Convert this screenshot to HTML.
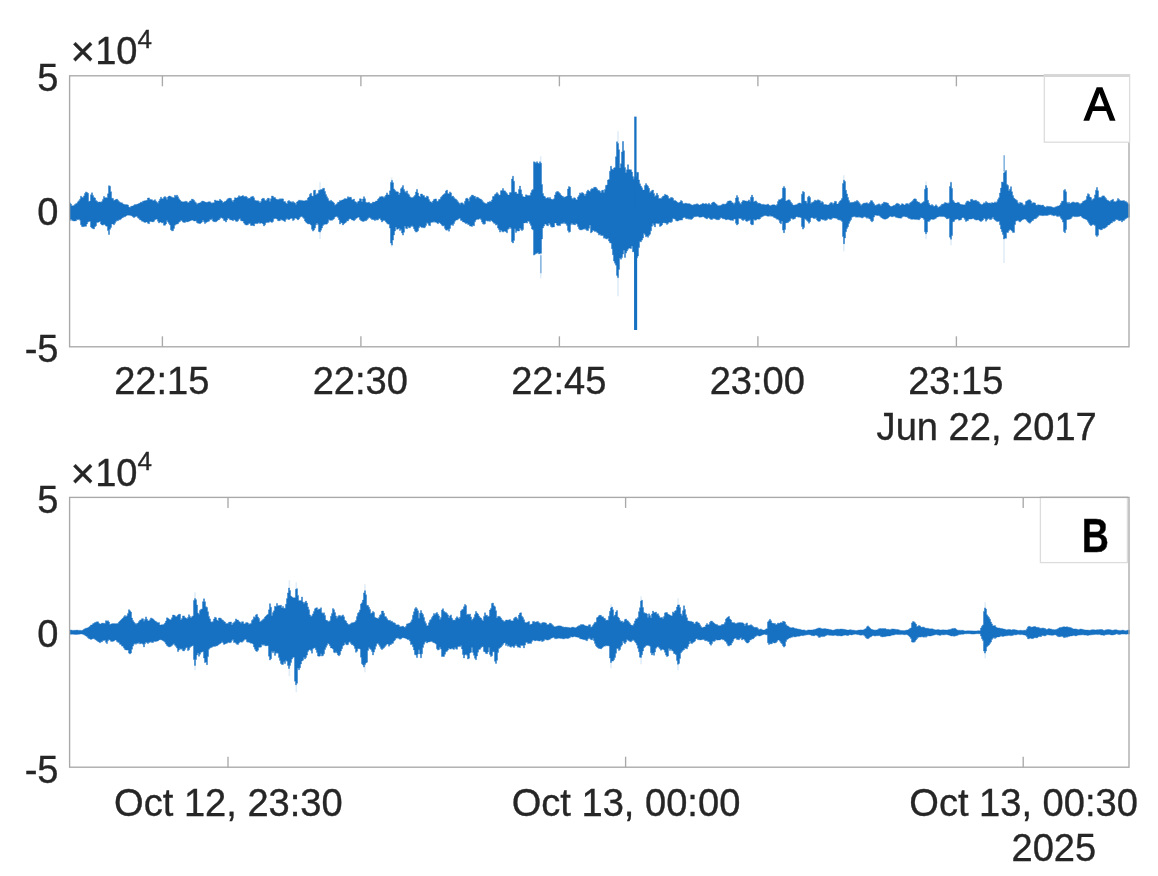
<!DOCTYPE html>
<html lang="en"><head><meta charset="utf-8"><title>Waveforms A and B</title>
<style>html,body{margin:0;padding:0;background:#fff;}body{width:1158px;height:876px;overflow:hidden;}svg{display:block;filter:blur(0.45px);}</style>
</head><body>
<svg width="1158" height="876" viewBox="0 0 1158 876" font-family="'Liberation Sans', Arial, Helvetica, sans-serif" fill="#262626" stroke="#262626" stroke-width="0.35">
<rect width="1158" height="876" fill="#ffffff" stroke="none"/>
<g id="panelA">
<line x1="320" y1="182.3" x2="320" y2="238.9" stroke="#1771c2" stroke-opacity="0.13" stroke-width="1.6"/>
<line x1="540.7" y1="156.3" x2="540.7" y2="278.3" stroke="#1771c2" stroke-opacity="0.13" stroke-width="1.6"/>
<line x1="1004" y1="155.3" x2="1004" y2="262.9" stroke="#1771c2" stroke-opacity="0.13" stroke-width="1.6"/>
<line x1="391.6" y1="177.3" x2="391.6" y2="247.3" stroke="#1771c2" stroke-opacity="0.13" stroke-width="1.6"/>
<line x1="618" y1="131.3" x2="618" y2="296.3" stroke="#1771c2" stroke-opacity="0.13" stroke-width="1.6"/>
<line x1="843.8" y1="175.3" x2="843.8" y2="251.3" stroke="#1771c2" stroke-opacity="0.13" stroke-width="1.6"/>
<line x1="951" y1="181.3" x2="951" y2="245.3" stroke="#1771c2" stroke-opacity="0.13" stroke-width="1.6"/>
<line x1="926" y1="181.3" x2="926" y2="239.3" stroke="#1771c2" stroke-opacity="0.13" stroke-width="1.6"/>
<path d="M69.50,211.3V202.9H70.50V204.1H71.50V206.1H72.50V205.7H73.50V205.6H74.50V204.4H75.50V203.7H76.50V203.2H77.50V201.8H78.50V200.7H79.50V199.3H80.50V196.2H81.50V197.2H82.50V197.8H83.50V195.9H84.50V193.5H85.50V191.9H86.50V192.5H87.50V193.3H88.50V201.6H89.50V201.0H90.50V194.8H91.50V192.8H92.50V195.4H93.50V197.4H94.50V198.0H95.50V200.4H96.50V201.2H97.50V202.3H98.50V202.0H99.50V201.9H100.50V202.2H101.50V201.6H102.50V199.4H103.50V196.5H104.50V198.0H105.50V197.6H106.50V198.1H107.50V193.8H108.50V185.7H109.50V186.2H110.50V191.7H111.50V198.2H112.50V198.4H113.50V200.5H114.50V200.0H115.50V199.5H116.50V199.1H117.50V200.3H118.50V201.5H119.50V202.3H120.50V202.8H121.50V202.8H122.50V203.9H123.50V204.3H124.50V204.7H125.50V204.6H126.50V204.7H127.50V205.1H128.50V207.1H129.50V207.4H130.50V206.5H131.50V206.1H132.50V206.0H133.50V205.2H134.50V204.5H135.50V204.7H136.50V204.2H137.50V204.0H138.50V203.6H139.50V203.1H140.50V202.1H141.50V202.4H142.50V201.2H143.50V201.0H144.50V200.7H145.50V200.6H146.50V200.2H147.50V198.1H148.50V197.9H149.50V199.4H150.50V199.6H151.50V199.7H152.50V200.7H153.50V200.6H154.50V199.7H155.50V201.2H156.50V202.3H157.50V203.2H158.50V201.0H159.50V199.3H160.50V197.2H161.50V198.7H162.50V198.7H163.50V197.2H164.50V196.6H165.50V197.5H166.50V199.5H167.50V197.1H168.50V196.1H169.50V196.1H170.50V196.7H171.50V197.2H172.50V197.4H173.50V198.0H174.50V195.2H175.50V196.2H176.50V195.1H177.50V196.7H178.50V198.7H179.50V200.1H180.50V201.2H181.50V201.8H182.50V201.8H183.50V202.0H184.50V201.4H185.50V201.2H186.50V201.7H187.50V202.9H188.50V202.3H189.50V201.0H190.50V200.8H191.50V199.1H192.50V199.4H193.50V200.2H194.50V201.8H195.50V202.7H196.50V204.3H197.50V203.6H198.50V203.0H199.50V202.9H200.50V202.2H201.50V201.2H202.50V201.1H203.50V201.6H204.50V202.0H205.50V202.2H206.50V202.5H207.50V202.0H208.50V201.7H209.50V201.8H210.50V202.8H211.50V203.3H212.50V202.8H213.50V202.7H214.50V200.0H215.50V200.8H216.50V200.8H217.50V201.0H218.50V200.9H219.50V199.3H220.50V200.2H221.50V201.1H222.50V202.7H223.50V202.1H224.50V201.4H225.50V201.1H226.50V199.8H227.50V198.7H228.50V198.3H229.50V198.1H230.50V198.6H231.50V200.6H232.50V201.7H233.50V200.1H234.50V197.8H235.50V198.1H236.50V198.1H237.50V197.3H238.50V195.7H239.50V196.4H240.50V196.5H241.50V196.1H242.50V195.6H243.50V196.5H244.50V196.7H245.50V196.3H246.50V197.2H247.50V198.8H248.50V198.1H249.50V198.5H250.50V196.9H251.50V196.7H252.50V196.3H253.50V197.8H254.50V200.2H255.50V200.7H256.50V200.7H257.50V200.7H258.50V201.5H259.50V203.1H260.50V201.4H261.50V199.0H262.50V198.2H263.50V198.6H264.50V200.3H265.50V201.1H266.50V199.4H267.50V198.1H268.50V198.5H269.50V201.6H270.50V198.7H271.50V196.0H272.50V196.3H273.50V197.5H274.50V197.6H275.50V199.0H276.50V199.4H277.50V199.4H278.50V199.6H279.50V198.7H280.50V199.3H281.50V198.7H282.50V198.9H283.50V201.6H284.50V201.6H285.50V202.9H286.50V203.9H287.50V201.2H288.50V200.6H289.50V201.6H290.50V201.7H291.50V202.6H292.50V201.6H293.50V202.4H294.50V203.0H295.50V204.5H296.50V202.0H297.50V201.2H298.50V200.2H299.50V200.3H300.50V200.4H301.50V200.4H302.50V201.1H303.50V200.8H304.50V200.9H305.50V200.2H306.50V200.4H307.50V198.1H308.50V197.0H309.50V194.3H310.50V193.2H311.50V196.0H312.50V196.3H313.50V190.4H314.50V190.1H315.50V195.0H316.50V193.7H317.50V193.4H318.50V190.3H319.50V190.2H320.50V189.6H321.50V189.6H322.50V188.4H323.50V188.2H324.50V191.5H325.50V194.6H326.50V196.7H327.50V198.5H328.50V200.7H329.50V201.2H330.50V200.3H331.50V201.3H332.50V202.0H333.50V203.0H334.50V205.3H335.50V204.6H336.50V203.7H337.50V202.3H338.50V202.1H339.50V200.4H340.50V200.9H341.50V200.1H342.50V199.9H343.50V199.2H344.50V198.5H345.50V199.1H346.50V198.7H347.50V196.7H348.50V197.8H349.50V197.1H350.50V197.4H351.50V199.8H352.50V199.7H353.50V199.1H354.50V201.5H355.50V202.1H356.50V203.3H357.50V201.7H358.50V201.1H359.50V198.7H360.50V199.0H361.50V201.7H362.50V198.9H363.50V196.7H364.50V198.7H365.50V202.2H366.50V203.0H367.50V202.6H368.50V202.2H369.50V203.2H370.50V203.5H371.50V203.2H372.50V202.0H373.50V202.3H374.50V202.0H375.50V201.0H376.50V201.0H377.50V199.3H378.50V198.3H379.50V196.8H380.50V196.8H381.50V196.4H382.50V196.8H383.50V197.7H384.50V196.4H385.50V195.1H386.50V192.9H387.50V194.8H388.50V195.1H389.50V190.8H390.50V182.4H391.50V180.4H392.50V182.7H393.50V188.9H394.50V190.2H395.50V191.6H396.50V191.7H397.50V192.0H398.50V194.7H399.50V193.0H400.50V188.7H401.50V187.5H402.50V185.6H403.50V189.4H404.50V191.5H405.50V192.6H406.50V190.9H407.50V193.7H408.50V194.7H409.50V196.7H410.50V197.5H411.50V197.7H412.50V197.5H413.50V196.6H414.50V195.3H415.50V192.0H416.50V189.4H417.50V192.9H418.50V196.1H419.50V196.9H420.50V194.1H421.50V194.0H422.50V195.4H423.50V195.6H424.50V197.6H425.50V197.4H426.50V196.0H427.50V196.7H428.50V199.6H429.50V201.4H430.50V201.9H431.50V202.7H432.50V201.0H433.50V199.4H434.50V199.1H435.50V198.9H436.50V201.2H437.50V201.2H438.50V199.6H439.50V199.2H440.50V197.3H441.50V196.3H442.50V195.1H443.50V194.3H444.50V193.4H445.50V190.9H446.50V190.1H447.50V193.6H448.50V194.0H449.50V191.9H450.50V192.9H451.50V196.5H452.50V196.1H453.50V197.4H454.50V198.8H455.50V199.2H456.50V200.2H457.50V201.7H458.50V202.9H459.50V204.2H460.50V202.9H461.50V202.7H462.50V203.5H463.50V204.6H464.50V201.3H465.50V198.7H466.50V198.0H467.50V198.9H468.50V201.3H469.50V197.6H470.50V196.5H471.50V195.1H472.50V195.3H473.50V196.3H474.50V196.3H475.50V198.5H476.50V197.0H477.50V197.5H478.50V198.3H479.50V198.9H480.50V199.3H481.50V200.2H482.50V201.7H483.50V202.7H484.50V203.2H485.50V203.7H486.50V203.6H487.50V202.0H488.50V202.3H489.50V201.3H490.50V201.9H491.50V199.9H492.50V196.6H493.50V196.2H494.50V194.5H495.50V193.8H496.50V192.6H497.50V193.8H498.50V195.2H499.50V195.0H500.50V190.7H501.50V190.6H502.50V188.5H503.50V190.7H504.50V190.9H505.50V192.3H506.50V193.5H507.50V195.0H508.50V195.1H509.50V192.6H510.50V192.6H511.50V179.1H512.50V176.2H513.50V181.2H514.50V192.2H515.50V192.0H516.50V193.7H517.50V194.0H518.50V189.5H519.50V186.1H520.50V189.8H521.50V194.2H522.50V196.6H523.50V197.1H524.50V197.0H525.50V194.8H526.50V195.2H527.50V195.7H528.50V195.4H529.50V195.6H530.50V192.8H531.50V190.3H532.50V189.4H533.50V161.8H534.50V162.3H535.50V163.3H536.50V161.7H537.50V163.1H538.50V163.8H539.50V161.8H540.50V163.2H541.50V184.4H542.50V193.5H543.50V196.1H544.50V196.8H545.50V198.5H546.50V198.0H547.50V197.5H548.50V198.4H549.50V197.4H550.50V199.0H551.50V199.5H552.50V199.4H553.50V198.8H554.50V195.0H555.50V192.4H556.50V191.6H557.50V191.6H558.50V192.6H559.50V193.6H560.50V195.0H561.50V196.1H562.50V196.5H563.50V197.4H564.50V196.9H565.50V196.8H566.50V196.1H567.50V189.1H568.50V186.6H569.50V187.3H570.50V196.1H571.50V198.3H572.50V199.3H573.50V197.8H574.50V198.0H575.50V199.6H576.50V200.1H577.50V197.1H578.50V195.6H579.50V192.9H580.50V193.8H581.50V192.6H582.50V193.0H583.50V194.3H584.50V195.9H585.50V193.9H586.50V191.5H587.50V190.0H588.50V191.0H589.50V191.5H590.50V189.5H591.50V188.5H592.50V189.0H593.50V187.6H594.50V187.1H595.50V187.5H596.50V188.7H597.50V190.2H598.50V190.5H599.50V191.3H600.50V192.7H601.50V190.5H602.50V190.1H603.50V192.4H604.50V189.4H605.50V185.4H606.50V185.0H607.50V180.0H608.50V179.5H609.50V171.2H610.50V166.2H611.50V169.1H612.50V169.9H613.50V168.1H614.50V167.5H615.50V156.7H616.50V141.8H617.50V143.4H618.50V149.7H619.50V167.9H620.50V163.7H621.50V152.0H622.50V141.4H623.50V150.7H624.50V167.6H625.50V172.8H626.50V169.8H627.50V164.7H628.50V169.6H629.50V169.8H630.50V169.8H631.50V172.1H632.50V176.6H633.50V179.2H634.50V177.2H635.50V176.4H636.50V172.3H637.50V172.4H638.50V179.9H639.50V183.8H640.50V186.1H641.50V187.8H642.50V190.0H643.50V190.1H644.50V185.5H645.50V183.6H646.50V185.0H647.50V186.2H648.50V188.3H649.50V192.4H650.50V191.4H651.50V190.6H652.50V190.1H653.50V193.5H654.50V196.5H655.50V195.6H656.50V193.3H657.50V195.3H658.50V198.8H659.50V198.3H660.50V198.8H661.50V197.5H662.50V196.2H663.50V195.9H664.50V194.3H665.50V195.1H666.50V195.0H667.50V196.2H668.50V198.4H669.50V198.5H670.50V197.4H671.50V197.6H672.50V198.3H673.50V200.4H674.50V200.4H675.50V201.1H676.50V202.0H677.50V202.7H678.50V202.7H679.50V202.1H680.50V200.6H681.50V201.2H682.50V203.3H683.50V203.9H684.50V203.3H685.50V203.2H686.50V203.5H687.50V204.1H688.50V203.6H689.50V203.9H690.50V204.7H691.50V205.1H692.50V205.2H693.50V204.5H694.50V204.4H695.50V204.2H696.50V203.8H697.50V204.2H698.50V205.1H699.50V205.0H700.50V204.4H701.50V204.1H702.50V203.3H703.50V203.9H704.50V204.0H705.50V203.5H706.50V204.2H707.50V204.2H708.50V203.3H709.50V204.5H710.50V204.7H711.50V203.1H712.50V202.2H713.50V202.0H714.50V203.0H715.50V203.9H716.50V204.8H717.50V205.9H718.50V205.4H719.50V205.7H720.50V205.3H721.50V204.8H722.50V203.9H723.50V204.2H724.50V204.2H725.50V204.0H726.50V202.7H727.50V201.3H728.50V201.1H729.50V200.8H730.50V201.1H731.50V202.4H732.50V202.9H733.50V204.3H734.50V202.8H735.50V198.0H736.50V195.6H737.50V197.5H738.50V201.6H739.50V203.2H740.50V204.3H741.50V202.0H742.50V200.6H743.50V200.6H744.50V200.9H745.50V200.9H746.50V201.6H747.50V201.0H748.50V199.9H749.50V201.4H750.50V197.2H751.50V195.1H752.50V197.3H753.50V202.1H754.50V201.2H755.50V200.9H756.50V202.3H757.50V203.4H758.50V203.1H759.50V203.6H760.50V204.1H761.50V204.7H762.50V204.2H763.50V204.4H764.50V205.1H765.50V204.8H766.50V204.7H767.50V204.0H768.50V205.1H769.50V206.0H770.50V205.4H771.50V205.0H772.50V204.8H773.50V204.8H774.50V205.1H775.50V205.7H776.50V204.6H777.50V201.5H778.50V199.7H779.50V199.7H780.50V199.2H781.50V198.2H782.50V188.1H783.50V186.6H784.50V188.2H785.50V200.9H786.50V200.8H787.50V200.1H788.50V199.7H789.50V200.6H790.50V202.3H791.50V203.4H792.50V205.0H793.50V205.2H794.50V205.0H795.50V204.8H796.50V204.6H797.50V203.7H798.50V203.0H799.50V203.1H800.50V203.4H801.50V194.2H802.50V191.5H803.50V192.2H804.50V201.1H805.50V201.3H806.50V203.2H807.50V197.3H808.50V196.0H809.50V197.4H810.50V203.4H811.50V202.4H812.50V202.3H813.50V201.4H814.50V200.1H815.50V201.1H816.50V200.4H817.50V199.8H818.50V200.3H819.50V200.7H820.50V202.7H821.50V201.5H822.50V202.6H823.50V204.5H824.50V204.5H825.50V204.6H826.50V205.0H827.50V205.1H828.50V204.8H829.50V203.5H830.50V202.6H831.50V202.8H832.50V204.3H833.50V203.0H834.50V201.3H835.50V201.5H836.50V204.0H837.50V204.1H838.50V202.6H839.50V201.0H840.50V200.3H841.50V198.5H842.50V183.6H843.50V180.2H844.50V181.6H845.50V190.2H846.50V193.9H847.50V197.5H848.50V200.5H849.50V202.4H850.50V202.4H851.50V202.5H852.50V202.3H853.50V202.2H854.50V201.4H855.50V201.4H856.50V200.4H857.50V201.2H858.50V202.4H859.50V203.8H860.50V205.6H861.50V204.6H862.50V203.8H863.50V203.1H864.50V203.2H865.50V202.9H866.50V202.7H867.50V203.8H868.50V203.5H869.50V202.2H870.50V200.6H871.50V200.7H872.50V202.3H873.50V203.8H874.50V205.2H875.50V205.5H876.50V204.8H877.50V204.5H878.50V203.8H879.50V204.6H880.50V205.4H881.50V203.9H882.50V203.4H883.50V202.1H884.50V202.4H885.50V202.5H886.50V202.9H887.50V203.2H888.50V205.0H889.50V206.1H890.50V206.8H891.50V206.2H892.50V206.0H893.50V205.3H894.50V205.3H895.50V204.1H896.50V203.3H897.50V203.7H898.50V204.0H899.50V205.6H900.50V204.9H901.50V203.7H902.50V204.0H903.50V205.0H904.50V204.9H905.50V203.8H906.50V203.5H907.50V203.7H908.50V204.5H909.50V202.9H910.50V202.2H911.50V201.6H912.50V200.4H913.50V199.1H914.50V198.8H915.50V199.3H916.50V201.2H917.50V202.0H918.50V202.2H919.50V203.3H920.50V204.0H921.50V202.9H922.50V202.3H923.50V201.4H924.50V189.3H925.50V185.6H926.50V187.9H927.50V200.3H928.50V203.3H929.50V205.1H930.50V205.4H931.50V204.6H932.50V205.5H933.50V206.6H934.50V206.1H935.50V204.8H936.50V205.9H937.50V207.4H938.50V206.9H939.50V206.4H940.50V205.4H941.50V204.2H942.50V204.3H943.50V203.7H944.50V202.5H945.50V203.0H946.50V202.9H947.50V203.8H948.50V202.7H949.50V186.5H950.50V182.5H951.50V188.4H952.50V200.2H953.50V201.7H954.50V203.1H955.50V203.0H956.50V203.1H957.50V202.3H958.50V202.8H959.50V204.0H960.50V204.6H961.50V204.5H962.50V205.0H963.50V204.8H964.50V204.8H965.50V202.8H966.50V201.3H967.50V200.9H968.50V201.8H969.50V202.0H970.50V199.5H971.50V199.2H972.50V200.2H973.50V200.9H974.50V200.2H975.50V200.2H976.50V201.2H977.50V201.5H978.50V202.3H979.50V203.7H980.50V204.3H981.50V205.1H982.50V204.0H983.50V202.8H984.50V203.2H985.50V201.6H986.50V202.4H987.50V203.0H988.50V203.3H989.50V202.9H990.50V203.5H991.50V202.6H992.50V202.9H993.50V202.9H994.50V201.9H995.50V202.9H996.50V201.7H997.50V199.6H998.50V197.8H999.50V193.0H1000.50V188.1H1001.50V182.0H1002.50V182.2H1003.50V173.1H1004.50V171.7H1005.50V170.5H1006.50V184.4H1007.50V185.5H1008.50V190.7H1009.50V189.2H1010.50V186.7H1011.50V191.8H1012.50V195.6H1013.50V198.0H1014.50V199.0H1015.50V199.8H1016.50V200.4H1017.50V202.8H1018.50V204.0H1019.50V202.4H1020.50V202.8H1021.50V202.9H1022.50V204.4H1023.50V205.4H1024.50V204.7H1025.50V201.5H1026.50V200.9H1027.50V200.3H1028.50V199.8H1029.50V199.8H1030.50V201.1H1031.50V203.5H1032.50V202.7H1033.50V202.8H1034.50V203.0H1035.50V205.1H1036.50V205.4H1037.50V204.8H1038.50V205.1H1039.50V204.9H1040.50V205.6H1041.50V205.3H1042.50V205.0H1043.50V206.3H1044.50V206.9H1045.50V207.3H1046.50V206.2H1047.50V206.4H1048.50V206.5H1049.50V206.5H1050.50V206.7H1051.50V207.0H1052.50V207.4H1053.50V207.8H1054.50V207.2H1055.50V206.8H1056.50V206.6H1057.50V205.9H1058.50V206.1H1059.50V205.1H1060.50V203.2H1061.50V201.2H1062.50V201.1H1063.50V190.4H1064.50V189.5H1065.50V191.8H1066.50V202.2H1067.50V203.5H1068.50V202.3H1069.50V203.7H1070.50V203.1H1071.50V202.6H1072.50V201.9H1073.50V202.2H1074.50V202.7H1075.50V202.8H1076.50V202.3H1077.50V202.6H1078.50V203.3H1079.50V204.3H1080.50V203.5H1081.50V202.9H1082.50V201.4H1083.50V201.0H1084.50V200.5H1085.50V199.8H1086.50V196.3H1087.50V193.7H1088.50V194.4H1089.50V197.0H1090.50V197.6H1091.50V200.3H1092.50V199.2H1093.50V198.6H1094.50V194.9H1095.50V190.3H1096.50V187.5H1097.50V190.7H1098.50V197.5H1099.50V197.3H1100.50V197.8H1101.50V196.5H1102.50V195.8H1103.50V195.9H1104.50V197.3H1105.50V198.4H1106.50V199.9H1107.50V200.4H1108.50V201.1H1109.50V201.7H1110.50V200.5H1111.50V199.9H1112.50V199.3H1113.50V201.4H1114.50V201.8H1115.50V201.7H1116.50V200.8H1117.50V198.6H1118.50V199.4H1119.50V200.4H1120.50V201.0H1121.50V200.8H1122.50V200.8H1123.50V200.6H1124.50V201.4H1125.50V201.6H1126.50V202.4H1127.50V203.6H1128.50V204.2H1129.50V211.3V217.3H1128.50V217.5H1127.50V217.7H1126.50V218.5H1125.50V219.2H1124.50V220.4H1123.50V220.4H1122.50V221.9H1121.50V220.3H1120.50V220.7H1119.50V220.7H1118.50V219.8H1117.50V219.7H1116.50V219.3H1115.50V220.7H1114.50V221.5H1113.50V221.3H1112.50V222.8H1111.50V222.9H1110.50V224.1H1109.50V225.0H1108.50V225.0H1107.50V226.4H1106.50V227.2H1105.50V228.1H1104.50V228.5H1103.50V228.3H1102.50V229.5H1101.50V230.0H1100.50V229.3H1099.50V229.1H1098.50V235.3H1097.50V236.6H1096.50V235.2H1095.50V225.6H1094.50V224.8H1093.50V224.2H1092.50V225.0H1091.50V225.7H1090.50V224.7H1089.50V223.2H1088.50V221.4H1087.50V220.0H1086.50V219.3H1085.50V219.0H1084.50V218.5H1083.50V218.0H1082.50V217.2H1081.50V216.1H1080.50V216.1H1079.50V216.4H1078.50V216.5H1077.50V216.8H1076.50V216.6H1075.50V216.8H1074.50V216.5H1073.50V216.1H1072.50V217.2H1071.50V218.4H1070.50V219.1H1069.50V219.3H1068.50V219.6H1067.50V219.7H1066.50V229.6H1065.50V232.7H1064.50V231.5H1063.50V222.1H1062.50V219.5H1061.50V218.2H1060.50V216.6H1059.50V215.7H1058.50V216.6H1057.50V216.3H1056.50V215.5H1055.50V215.1H1054.50V215.9H1053.50V215.2H1052.50V215.2H1051.50V214.6H1050.50V214.7H1049.50V214.7H1048.50V215.2H1047.50V215.5H1046.50V215.5H1045.50V215.3H1044.50V215.5H1043.50V215.7H1042.50V215.6H1041.50V215.5H1040.50V215.0H1039.50V215.4H1038.50V216.5H1037.50V217.5H1036.50V218.5H1035.50V218.8H1034.50V218.9H1033.50V220.4H1032.50V220.7H1031.50V222.0H1030.50V223.2H1029.50V222.8H1028.50V222.0H1027.50V220.8H1026.50V219.4H1025.50V219.1H1024.50V219.0H1023.50V219.6H1022.50V219.9H1021.50V221.0H1020.50V222.0H1019.50V221.2H1018.50V220.1H1017.50V220.8H1016.50V221.0H1015.50V224.5H1014.50V232.4H1013.50V232.4H1012.50V231.1H1011.50V229.9H1010.50V229.6H1009.50V230.5H1008.50V232.4H1007.50V232.5H1006.50V238.3H1005.50V238.0H1004.50V239.0H1003.50V234.6H1002.50V231.7H1001.50V228.9H1000.50V224.8H999.50V221.0H998.50V221.6H997.50V221.4H996.50V220.8H995.50V220.0H994.50V218.9H993.50V217.1H992.50V218.6H991.50V219.5H990.50V219.6H989.50V218.6H988.50V218.7H987.50V219.8H986.50V221.2H985.50V218.7H984.50V218.3H983.50V219.9H982.50V220.8H981.50V221.5H980.50V221.0H979.50V219.9H978.50V219.7H977.50V220.0H976.50V220.1H975.50V219.6H974.50V218.9H973.50V217.9H972.50V218.9H971.50V219.0H970.50V219.1H969.50V219.1H968.50V220.5H967.50V220.8H966.50V221.4H965.50V219.6H964.50V218.1H963.50V217.2H962.50V217.9H961.50V219.7H960.50V220.0H959.50V220.2H958.50V218.9H957.50V219.0H956.50V219.3H955.50V219.7H954.50V221.4H953.50V221.8H952.50V235.5H951.50V239.2H950.50V237.2H949.50V218.2H948.50V218.5H947.50V218.9H946.50V217.8H945.50V217.0H944.50V216.6H943.50V216.5H942.50V216.6H941.50V216.6H940.50V216.2H939.50V216.4H938.50V216.9H937.50V217.1H936.50V218.2H935.50V218.8H934.50V219.2H933.50V219.6H932.50V218.9H931.50V219.3H930.50V220.3H929.50V221.5H928.50V221.5H927.50V232.1H926.50V233.7H925.50V231.8H924.50V219.4H923.50V218.0H922.50V217.9H921.50V217.5H920.50V218.8H919.50V219.9H918.50V219.2H917.50V219.6H916.50V219.3H915.50V219.4H914.50V219.1H913.50V219.2H912.50V219.3H911.50V219.2H910.50V218.5H909.50V218.4H908.50V217.7H907.50V216.7H906.50V217.0H905.50V216.6H904.50V216.2H903.50V216.6H902.50V217.2H901.50V218.2H900.50V218.0H899.50V218.1H898.50V217.8H897.50V217.4H896.50V217.3H895.50V216.4H894.50V216.0H893.50V216.6H892.50V216.9H891.50V216.2H890.50V216.3H889.50V216.9H888.50V218.0H887.50V218.5H886.50V219.0H885.50V219.2H884.50V219.1H883.50V218.6H882.50V217.9H881.50V217.2H880.50V216.2H879.50V215.5H878.50V215.4H877.50V215.5H876.50V214.9H875.50V215.3H874.50V217.1H873.50V220.8H872.50V221.8H871.50V220.8H870.50V219.1H869.50V218.5H868.50V217.4H867.50V218.3H866.50V217.3H865.50V216.8H864.50V216.7H863.50V217.4H862.50V218.1H861.50V217.2H860.50V217.3H859.50V216.8H858.50V217.2H857.50V217.1H856.50V217.2H855.50V216.4H854.50V216.4H853.50V216.8H852.50V217.2H851.50V219.8H850.50V221.3H849.50V223.4H848.50V226.7H847.50V228.4H846.50V231.7H845.50V237.9H844.50V243.7H843.50V236.6H842.50V221.4H841.50V220.4H840.50V219.8H839.50V220.1H838.50V219.5H837.50V218.5H836.50V218.3H835.50V218.0H834.50V218.1H833.50V217.7H832.50V218.6H831.50V219.4H830.50V219.3H829.50V218.7H828.50V218.5H827.50V219.8H826.50V220.2H825.50V220.4H824.50V219.6H823.50V220.0H822.50V218.9H821.50V219.3H820.50V221.1H819.50V221.4H818.50V221.1H817.50V219.9H816.50V217.8H815.50V218.5H814.50V218.6H813.50V217.9H812.50V217.3H811.50V218.0H810.50V221.7H809.50V223.2H808.50V221.5H807.50V220.5H806.50V219.4H805.50V218.8H804.50V227.6H803.50V229.1H802.50V226.5H801.50V217.7H800.50V217.1H799.50V217.2H798.50V217.1H797.50V216.5H796.50V217.0H795.50V218.5H794.50V219.0H793.50V219.3H792.50V218.2H791.50V218.6H790.50V220.8H789.50V221.5H788.50V222.5H787.50V222.7H786.50V222.9H785.50V229.6H784.50V232.7H783.50V230.1H782.50V220.9H781.50V223.8H780.50V222.7H779.50V220.2H778.50V219.2H777.50V219.3H776.50V218.3H775.50V217.8H774.50V217.4H773.50V216.4H772.50V216.0H771.50V216.3H770.50V215.6H769.50V216.2H768.50V216.2H767.50V216.0H766.50V215.6H765.50V215.5H764.50V215.7H763.50V216.2H762.50V216.8H761.50V217.3H760.50V218.7H759.50V219.3H758.50V218.9H757.50V219.1H756.50V220.1H755.50V220.2H754.50V219.3H753.50V224.5H752.50V225.0H751.50V224.0H750.50V219.8H749.50V220.6H748.50V220.7H747.50V221.4H746.50V220.9H745.50V219.2H744.50V219.8H743.50V220.4H742.50V219.7H741.50V218.5H740.50V218.4H739.50V218.2H738.50V223.9H737.50V225.0H736.50V223.3H735.50V219.0H734.50V219.1H733.50V220.6H732.50V219.9H731.50V220.3H730.50V219.9H729.50V219.6H728.50V219.3H727.50V219.4H726.50V219.9H725.50V219.1H724.50V218.7H723.50V218.8H722.50V218.0H721.50V217.6H720.50V218.5H719.50V219.7H718.50V219.7H717.50V219.7H716.50V219.3H715.50V218.7H714.50V218.4H713.50V218.6H712.50V219.5H711.50V219.4H710.50V218.7H709.50V217.7H708.50V217.7H707.50V218.9H706.50V218.3H705.50V217.8H704.50V217.0H703.50V216.6H702.50V216.9H701.50V217.1H700.50V217.3H699.50V217.0H698.50V216.1H697.50V216.5H696.50V216.6H695.50V216.8H694.50V216.7H693.50V217.9H692.50V219.0H691.50V219.5H690.50V218.7H689.50V219.2H688.50V218.6H687.50V218.8H686.50V218.5H685.50V217.5H684.50V217.2H683.50V218.1H682.50V220.1H681.50V220.1H680.50V220.1H679.50V220.2H678.50V220.9H677.50V221.1H676.50V220.4H675.50V219.1H674.50V218.8H673.50V218.5H672.50V221.6H671.50V222.5H670.50V221.9H669.50V222.3H668.50V223.4H667.50V224.4H666.50V223.0H665.50V223.1H664.50V222.4H663.50V222.9H662.50V224.9H661.50V225.9H660.50V226.4H659.50V223.2H658.50V223.8H657.50V222.9H656.50V223.4H655.50V226.9H654.50V225.3H653.50V223.4H652.50V226.3H651.50V230.8H650.50V234.2H649.50V235.4H648.50V237.3H647.50V236.1H646.50V236.8H645.50V234.5H644.50V233.3H643.50V238.0H642.50V240.1H641.50V241.8H640.50V241.6H639.50V247.5H638.50V255.9H637.50V257.8H636.50V255.9H635.50V253.6H634.50V251.6H633.50V251.9H632.50V246.0H631.50V248.6H630.50V248.2H629.50V248.0H628.50V249.3H627.50V250.9H626.50V253.1H625.50V257.4H624.50V250.2H623.50V254.0H622.50V257.6H621.50V259.2H620.50V258.1H619.50V269.4H618.50V277.6H617.50V275.4H616.50V265.2H615.50V263.2H614.50V261.0H613.50V254.8H612.50V248.7H611.50V243.1H610.50V242.8H609.50V241.0H608.50V237.9H607.50V239.1H606.50V238.7H605.50V237.8H604.50V238.2H603.50V235.6H602.50V235.4H601.50V235.4H600.50V233.9H599.50V235.1H598.50V233.1H597.50V232.3H596.50V231.2H595.50V231.6H594.50V230.7H593.50V230.3H592.50V231.9H591.50V232.8H590.50V225.0H589.50V228.3H588.50V230.5H587.50V230.6H586.50V229.5H585.50V228.5H584.50V229.2H583.50V229.1H582.50V229.8H581.50V229.9H580.50V229.8H579.50V228.8H578.50V226.5H577.50V224.1H576.50V223.6H575.50V224.9H574.50V224.4H573.50V224.4H572.50V223.3H571.50V224.6H570.50V231.7H569.50V232.3H568.50V230.4H567.50V225.4H566.50V223.8H565.50V223.6H564.50V222.6H563.50V223.5H562.50V223.2H561.50V223.8H560.50V225.7H559.50V224.9H558.50V225.8H557.50V225.0H556.50V222.9H555.50V223.1H554.50V226.9H553.50V227.0H552.50V227.2H551.50V226.5H550.50V224.5H549.50V222.9H548.50V225.8H547.50V225.4H546.50V224.2H545.50V224.1H544.50V226.1H543.50V227.9H542.50V238.9H541.50V253.3H540.50V253.4H539.50V253.9H538.50V252.4H537.50V253.3H536.50V253.5H535.50V254.3H534.50V255.1H533.50V229.8H532.50V228.9H531.50V225.4H530.50V223.6H529.50V221.5H528.50V221.1H527.50V223.1H526.50V222.4H525.50V222.9H524.50V222.9H523.50V229.6H522.50V230.6H521.50V229.6H520.50V227.9H519.50V231.0H518.50V231.0H517.50V230.8H516.50V232.4H515.50V228.8H514.50V240.4H513.50V243.0H512.50V241.7H511.50V228.5H510.50V226.9H509.50V228.6H508.50V229.3H507.50V232.8H506.50V231.7H505.50V231.3H504.50V231.0H503.50V232.1H502.50V231.2H501.50V230.1H500.50V232.1H499.50V229.6H498.50V228.0H497.50V224.4H496.50V225.1H495.50V223.6H494.50V223.3H493.50V222.1H492.50V221.0H491.50V220.3H490.50V221.4H489.50V220.7H488.50V221.2H487.50V220.7H486.50V220.7H485.50V223.7H484.50V224.3H483.50V223.8H482.50V222.1H481.50V219.6H480.50V218.3H479.50V219.1H478.50V219.4H477.50V219.1H476.50V220.0H475.50V221.8H474.50V225.7H473.50V225.2H472.50V226.5H471.50V226.1H470.50V226.1H469.50V224.5H468.50V224.4H467.50V223.1H466.50V223.7H465.50V222.7H464.50V221.9H463.50V222.0H462.50V220.6H461.50V220.4H460.50V218.3H459.50V218.4H458.50V219.3H457.50V220.1H456.50V220.0H455.50V221.3H454.50V223.5H453.50V225.4H452.50V224.5H451.50V225.2H450.50V228.4H449.50V231.2H448.50V229.2H447.50V230.2H446.50V230.1H445.50V228.4H444.50V225.4H443.50V226.1H442.50V225.3H441.50V224.0H440.50V223.0H439.50V222.6H438.50V223.7H437.50V223.0H436.50V221.9H435.50V222.3H434.50V221.5H433.50V222.2H432.50V222.2H431.50V222.4H430.50V225.7H429.50V225.3H428.50V223.4H427.50V222.8H426.50V225.4H425.50V227.3H424.50V227.9H423.50V227.3H422.50V227.6H421.50V226.9H420.50V226.1H419.50V227.8H418.50V230.8H417.50V231.8H416.50V232.1H415.50V230.8H414.50V228.7H413.50V226.5H412.50V225.8H411.50V226.5H410.50V227.8H409.50V227.8H408.50V226.4H407.50V228.7H406.50V228.3H405.50V225.9H404.50V232.2H403.50V235.1H402.50V232.9H401.50V229.5H400.50V230.6H399.50V228.1H398.50V228.9H397.50V229.3H396.50V227.1H395.50V230.9H394.50V234.9H393.50V240.1H392.50V245.1H391.50V243.1H390.50V228.1H389.50V224.2H388.50V224.1H387.50V223.2H386.50V221.9H385.50V220.8H384.50V220.0H383.50V220.7H382.50V221.9H381.50V220.1H380.50V218.4H379.50V218.6H378.50V219.8H377.50V220.1H376.50V219.6H375.50V220.6H374.50V219.7H373.50V219.5H372.50V219.6H371.50V218.6H370.50V217.7H369.50V217.6H368.50V218.6H367.50V219.8H366.50V220.8H365.50V220.4H364.50V221.3H363.50V221.4H362.50V221.1H361.50V220.4H360.50V219.6H359.50V217.3H358.50V216.9H357.50V217.9H356.50V218.6H355.50V219.7H354.50V220.7H353.50V220.1H352.50V219.9H351.50V218.9H350.50V218.4H349.50V219.2H348.50V220.9H347.50V220.8H346.50V222.2H345.50V222.9H344.50V223.7H343.50V225.0H342.50V223.0H341.50V222.5H340.50V224.0H339.50V219.8H338.50V217.5H337.50V216.6H336.50V216.5H335.50V217.1H334.50V218.7H333.50V219.6H332.50V220.3H331.50V220.2H330.50V220.3H329.50V219.5H328.50V222.5H327.50V223.9H326.50V224.2H325.50V224.0H324.50V224.6H323.50V225.5H322.50V227.9H321.50V230.2H320.50V232.1H319.50V231.5H318.50V224.6H317.50V222.9H316.50V224.8H315.50V228.1H314.50V230.0H313.50V231.1H312.50V229.2H311.50V225.0H310.50V223.9H309.50V223.8H308.50V223.9H307.50V223.1H306.50V222.2H305.50V220.9H304.50V218.6H303.50V217.4H302.50V216.5H301.50V216.4H300.50V217.3H299.50V218.9H298.50V219.9H297.50V218.9H296.50V217.9H295.50V218.3H294.50V219.8H293.50V220.6H292.50V218.5H291.50V217.9H290.50V218.9H289.50V219.7H288.50V219.3H287.50V218.4H286.50V219.5H285.50V221.6H284.50V220.9H283.50V220.3H282.50V220.1H281.50V219.3H280.50V220.4H279.50V220.9H278.50V220.5H277.50V219.1H276.50V218.4H275.50V218.4H274.50V218.8H273.50V221.4H272.50V222.4H271.50V221.9H270.50V221.3H269.50V222.2H268.50V222.6H267.50V222.2H266.50V222.7H265.50V224.7H264.50V226.0H263.50V224.0H262.50V223.1H261.50V223.1H260.50V223.4H259.50V222.6H258.50V223.2H257.50V223.7H256.50V223.3H255.50V223.8H254.50V225.9H253.50V225.2H252.50V225.5H251.50V225.4H250.50V223.5H249.50V223.6H248.50V224.5H247.50V225.1H246.50V224.9H245.50V224.3H244.50V223.1H243.50V220.9H242.50V221.1H241.50V220.5H240.50V218.6H239.50V219.2H238.50V220.8H237.50V221.6H236.50V221.3H235.50V220.1H234.50V219.4H233.50V220.7H232.50V219.9H231.50V219.9H230.50V219.6H229.50V218.6H228.50V218.1H227.50V220.0H226.50V222.0H225.50V220.7H224.50V220.4H223.50V218.6H222.50V217.9H221.50V217.6H220.50V218.6H219.50V219.7H218.50V220.0H217.50V220.9H216.50V221.8H215.50V221.8H214.50V221.7H213.50V221.1H212.50V218.7H211.50V219.8H210.50V219.6H209.50V221.2H208.50V221.6H207.50V222.0H206.50V222.5H205.50V223.6H204.50V221.7H203.50V219.9H202.50V222.0H201.50V222.9H200.50V223.7H199.50V223.3H198.50V223.2H197.50V222.5H196.50V220.8H195.50V220.9H194.50V221.0H193.50V219.9H192.50V220.2H191.50V220.3H190.50V220.9H189.50V221.2H188.50V221.7H187.50V221.9H186.50V221.5H185.50V222.4H184.50V222.4H183.50V222.1H182.50V220.8H181.50V220.3H180.50V221.5H179.50V222.2H178.50V223.8H177.50V224.0H176.50V224.3H175.50V225.2H174.50V228.4H173.50V230.7H172.50V230.8H171.50V229.7H170.50V224.9H169.50V223.5H168.50V221.9H167.50V220.6H166.50V223.9H165.50V225.2H164.50V225.3H163.50V222.6H162.50V223.0H161.50V222.0H160.50V222.1H159.50V223.0H158.50V221.3H157.50V218.9H156.50V219.2H155.50V219.7H154.50V221.3H153.50V221.9H152.50V221.7H151.50V221.5H150.50V221.4H149.50V223.7H148.50V223.3H147.50V222.0H146.50V222.0H145.50V222.5H144.50V222.1H143.50V221.3H142.50V221.3H141.50V220.0H140.50V219.8H139.50V218.5H138.50V217.8H137.50V216.6H136.50V216.1H135.50V217.0H134.50V217.6H133.50V216.8H132.50V216.0H131.50V215.6H130.50V215.2H129.50V215.3H128.50V214.9H127.50V215.3H126.50V215.9H125.50V216.7H124.50V216.8H123.50V217.5H122.50V217.9H121.50V219.1H120.50V219.8H119.50V219.8H118.50V220.7H117.50V220.6H116.50V221.4H115.50V223.2H114.50V224.8H113.50V224.0H112.50V223.9H111.50V227.4H110.50V229.3H109.50V234.5H108.50V230.6H107.50V226.3H106.50V226.0H105.50V224.7H104.50V224.2H103.50V225.1H102.50V224.9H101.50V223.9H100.50V221.2H99.50V221.9H98.50V222.3H97.50V222.6H96.50V225.7H95.50V226.7H94.50V228.9H93.50V228.6H92.50V228.1H91.50V227.0H90.50V221.3H89.50V221.6H88.50V222.1H87.50V223.9H86.50V226.3H85.50V226.2H84.50V226.4H83.50V226.8H82.50V226.5H81.50V224.8H80.50V220.2H79.50V219.1H78.50V219.8H77.50V219.6H76.50V220.8H75.50V220.9H74.50V220.9H73.50V220.8H72.50V220.3H71.50V218.9H70.50V220.5H69.50Z" fill="#1771c2" stroke="#1771c2" stroke-width="0.4" stroke-linejoin="miter"/>
<line x1="1004.2" y1="155.3" x2="1004.2" y2="171.3" stroke="#1771c2" stroke-opacity="0.55" stroke-width="1.3"/>
<line x1="540.9" y1="255.3" x2="540.9" y2="273.3" stroke="#1771c2" stroke-opacity="0.55" stroke-width="1.3"/>
<line x1="635.4" y1="116.6" x2="635.4" y2="211.3" stroke="#1771c2" stroke-width="2.3"/>
<line x1="635.6" y1="211.3" x2="635.6" y2="330.0" stroke="#1771c2" stroke-width="3.0999999999999996"/>
<rect x="69.6" y="75.8" width="1059.4" height="271.0" fill="none" stroke="#a9a9a9" stroke-width="1.35"/>
<line x1="162.4" y1="75.8" x2="162.4" y2="86.3" stroke="#a9a9a9" stroke-width="1.35"/>
<line x1="162.4" y1="346.8" x2="162.4" y2="336.3" stroke="#a9a9a9" stroke-width="1.35"/>
<line x1="360.9" y1="75.8" x2="360.9" y2="86.3" stroke="#a9a9a9" stroke-width="1.35"/>
<line x1="360.9" y1="346.8" x2="360.9" y2="336.3" stroke="#a9a9a9" stroke-width="1.35"/>
<line x1="559.4" y1="75.8" x2="559.4" y2="86.3" stroke="#a9a9a9" stroke-width="1.35"/>
<line x1="559.4" y1="346.8" x2="559.4" y2="336.3" stroke="#a9a9a9" stroke-width="1.35"/>
<line x1="757.9" y1="75.8" x2="757.9" y2="86.3" stroke="#a9a9a9" stroke-width="1.35"/>
<line x1="757.9" y1="346.8" x2="757.9" y2="336.3" stroke="#a9a9a9" stroke-width="1.35"/>
<line x1="956.4" y1="75.8" x2="956.4" y2="86.3" stroke="#a9a9a9" stroke-width="1.35"/>
<line x1="956.4" y1="346.8" x2="956.4" y2="336.3" stroke="#a9a9a9" stroke-width="1.35"/>
<rect x="1044.3" y="74.6" width="85.3" height="67.6" fill="#ffffff" stroke="#dcdcdc" stroke-width="1.3"/>
<line x1="1044.3" y1="75.6" x2="1129.6" y2="75.6" stroke="#d6d6d6" stroke-width="2.6"/>
<text x="1099.4" y="120.2" text-anchor="middle" font-size="45.6" fill="#000" stroke="#000" stroke-width="1.3">A</text>
<text x="58.5" y="91.0" text-anchor="end" font-size="38.1" >5</text>
<text x="58.5" y="225.2" text-anchor="end" font-size="38.1" >0</text>
<text x="58.5" y="362.0" text-anchor="end" font-size="38.1" >-5</text>
<text x="70.6" y="63.8" font-size="38.1"><tspan font-size="42" dy="2.4">×</tspan><tspan dy="-2.4">10</tspan><tspan dy="-15.6" font-size="26">4</tspan></text>
<text x="161.8" y="394.2" text-anchor="middle" font-size="38.1" >22:15</text>
<text x="360.29999999999995" y="394.2" text-anchor="middle" font-size="38.1" >22:30</text>
<text x="558.8" y="394.2" text-anchor="middle" font-size="38.1" >22:45</text>
<text x="757.3" y="394.2" text-anchor="middle" font-size="38.1" >23:00</text>
<text x="955.8" y="394.2" text-anchor="middle" font-size="38.1" >23:15</text>
<text x="1096.8" y="439.6" text-anchor="end" font-size="38.1" >Jun 22, 2017</text>
</g>
<g id="panelB">
<line x1="296.3" y1="582.3" x2="296.3" y2="692.3" stroke="#1771c2" stroke-opacity="0.13" stroke-width="1.6"/>
<line x1="289.4" y1="580.3" x2="289.4" y2="676.3" stroke="#1771c2" stroke-opacity="0.13" stroke-width="1.6"/>
<line x1="195" y1="592.3" x2="195" y2="670.3" stroke="#1771c2" stroke-opacity="0.13" stroke-width="1.6"/>
<line x1="364.9" y1="584.3" x2="364.9" y2="672.3" stroke="#1771c2" stroke-opacity="0.13" stroke-width="1.6"/>
<line x1="641" y1="596.3" x2="641" y2="664.3" stroke="#1771c2" stroke-opacity="0.13" stroke-width="1.6"/>
<line x1="678" y1="598.3" x2="678" y2="670.3" stroke="#1771c2" stroke-opacity="0.13" stroke-width="1.6"/>
<line x1="985.2" y1="602.3" x2="985.2" y2="658.3" stroke="#1771c2" stroke-opacity="0.13" stroke-width="1.6"/>
<line x1="611" y1="604.3" x2="611" y2="668.3" stroke="#1771c2" stroke-opacity="0.13" stroke-width="1.6"/>
<path d="M69.50,632.3V630.1H70.50V630.0H71.50V630.3H72.50V630.4H73.50V630.3H74.50V630.3H75.50V630.3H76.50V630.1H77.50V630.2H78.50V630.4H79.50V630.3H80.50V630.4H81.50V630.4H82.50V630.0H83.50V629.3H84.50V628.8H85.50V628.2H86.50V628.1H87.50V627.8H88.50V627.0H89.50V626.2H90.50V625.0H91.50V625.0H92.50V623.7H93.50V623.3H94.50V622.5H95.50V622.3H96.50V621.8H97.50V621.8H98.50V623.3H99.50V623.9H100.50V623.9H101.50V623.1H102.50V623.3H103.50V623.2H104.50V623.5H105.50V620.7H106.50V621.2H107.50V620.7H108.50V622.0H109.50V624.4H110.50V624.1H111.50V623.8H112.50V623.6H113.50V623.7H114.50V623.6H115.50V624.1H116.50V623.4H117.50V623.6H118.50V622.0H119.50V621.0H120.50V620.0H121.50V619.0H122.50V618.1H123.50V616.7H124.50V615.6H125.50V616.8H126.50V615.8H127.50V613.4H128.50V609.7H129.50V610.8H130.50V612.1H131.50V618.0H132.50V620.5H133.50V622.1H134.50V623.2H135.50V624.2H136.50V623.4H137.50V623.1H138.50V621.6H139.50V620.3H140.50V619.9H141.50V618.7H142.50V618.7H143.50V621.3H144.50V619.4H145.50V616.9H146.50V619.2H147.50V620.7H148.50V620.9H149.50V619.7H150.50V617.9H151.50V618.5H152.50V618.9H153.50V619.9H154.50V621.0H155.50V621.4H156.50V622.3H157.50V622.9H158.50V622.5H159.50V625.0H160.50V625.0H161.50V624.7H162.50V624.7H163.50V624.3H164.50V623.1H165.50V621.1H166.50V617.8H167.50V618.3H168.50V619.1H169.50V619.9H170.50V619.6H171.50V617.7H172.50V615.1H173.50V615.1H174.50V615.8H175.50V617.1H176.50V616.3H177.50V615.1H178.50V614.3H179.50V614.2H180.50V619.9H181.50V618.5H182.50V615.9H183.50V615.9H184.50V617.6H185.50V618.1H186.50V619.1H187.50V617.4H188.50V614.7H189.50V616.4H190.50V617.9H191.50V616.7H192.50V615.9H193.50V600.4H194.50V598.6H195.50V599.7H196.50V605.0H197.50V613.1H198.50V614.3H199.50V610.4H200.50V609.4H201.50V608.9H202.50V601.7H203.50V598.8H204.50V601.7H205.50V606.7H206.50V607.4H207.50V611.7H208.50V616.5H209.50V618.9H210.50V621.8H211.50V622.3H212.50V621.5H213.50V619.1H214.50V617.2H215.50V617.8H216.50V619.9H217.50V621.1H218.50V618.1H219.50V617.9H220.50V618.6H221.50V619.8H222.50V620.3H223.50V621.4H224.50V622.1H225.50V623.8H226.50V623.5H227.50V623.4H228.50V622.3H229.50V622.1H230.50V622.0H231.50V625.0H232.50V623.3H233.50V622.4H234.50V621.6H235.50V618.9H236.50V620.0H237.50V620.1H238.50V621.5H239.50V622.0H240.50V623.3H241.50V621.7H242.50V621.7H243.50V623.7H244.50V624.0H245.50V622.7H246.50V622.4H247.50V623.0H248.50V624.6H249.50V623.7H250.50V623.4H251.50V620.5H252.50V619.4H253.50V616.8H254.50V617.5H255.50V614.9H256.50V614.3H257.50V617.0H258.50V618.4H259.50V621.9H260.50V621.2H261.50V620.5H262.50V619.6H263.50V618.7H264.50V617.1H265.50V616.1H266.50V615.0H267.50V614.2H268.50V609.8H269.50V603.7H270.50V607.3H271.50V615.8H272.50V612.6H273.50V610.8H274.50V606.3H275.50V606.7H276.50V603.4H277.50V606.1H278.50V605.5H279.50V605.4H280.50V605.2H281.50V607.9H282.50V606.4H283.50V608.3H284.50V608.2H285.50V604.3H286.50V598.6H287.50V592.9H288.50V588.0H289.50V590.6H290.50V596.1H291.50V597.0H292.50V597.8H293.50V597.8H294.50V597.7H295.50V589.3H296.50V588.7H297.50V595.4H298.50V600.4H299.50V600.7H300.50V600.5H301.50V597.0H302.50V602.0H303.50V603.6H304.50V602.2H305.50V601.1H306.50V603.1H307.50V606.9H308.50V609.7H309.50V614.9H310.50V616.4H311.50V615.8H312.50V613.9H313.50V611.4H314.50V608.8H315.50V607.9H316.50V607.7H317.50V609.9H318.50V608.9H319.50V609.2H320.50V607.8H321.50V612.7H322.50V613.4H323.50V612.8H324.50V615.4H325.50V620.1H326.50V620.5H327.50V621.2H328.50V621.7H329.50V620.7H330.50V616.2H331.50V613.4H332.50V608.6H333.50V609.7H334.50V612.6H335.50V615.9H336.50V618.2H337.50V616.5H338.50V615.4H339.50V615.6H340.50V616.4H341.50V615.8H342.50V614.9H343.50V616.8H344.50V620.3H345.50V621.1H346.50V623.0H347.50V624.2H348.50V624.7H349.50V624.2H350.50V623.6H351.50V622.7H352.50V622.7H353.50V622.4H354.50V621.9H355.50V620.6H356.50V616.6H357.50V613.3H358.50V612.2H359.50V609.9H360.50V604.1H361.50V602.8H362.50V600.1H363.50V592.9H364.50V590.7H365.50V594.8H366.50V605.2H367.50V605.4H368.50V607.2H369.50V609.4H370.50V613.5H371.50V612.9H372.50V611.5H373.50V612.5H374.50V617.3H375.50V618.1H376.50V618.0H377.50V618.9H378.50V617.6H379.50V615.2H380.50V614.4H381.50V611.1H382.50V611.0H383.50V613.2H384.50V616.6H385.50V616.7H386.50V618.4H387.50V620.1H388.50V620.7H389.50V620.2H390.50V621.6H391.50V621.2H392.50V622.5H393.50V622.7H394.50V623.3H395.50V624.8H396.50V625.1H397.50V624.7H398.50V625.3H399.50V627.1H400.50V626.6H401.50V626.4H402.50V626.1H403.50V627.0H404.50V627.5H405.50V626.3H406.50V623.9H407.50V623.7H408.50V623.3H409.50V622.9H410.50V621.7H411.50V619.8H412.50V615.3H413.50V611.8H414.50V608.8H415.50V607.5H416.50V608.7H417.50V610.7H418.50V618.3H419.50V613.2H420.50V610.5H421.50V613.0H422.50V614.5H423.50V617.6H424.50V621.4H425.50V623.4H426.50V625.9H427.50V625.6H428.50V622.8H429.50V620.2H430.50V619.4H431.50V617.4H432.50V615.9H433.50V613.6H434.50V614.8H435.50V613.3H436.50V612.5H437.50V614.3H438.50V615.9H439.50V619.5H440.50V617.4H441.50V610.0H442.50V608.7H443.50V611.3H444.50V612.2H445.50V612.4H446.50V613.6H447.50V614.9H448.50V618.1H449.50V615.9H450.50V614.9H451.50V618.2H452.50V620.3H453.50V620.1H454.50V620.2H455.50V618.2H456.50V616.7H457.50V617.8H458.50V619.1H459.50V617.2H460.50V610.9H461.50V609.8H462.50V609.3H463.50V606.7H464.50V604.4H465.50V605.6H466.50V615.1H467.50V614.0H468.50V615.1H469.50V614.0H470.50V616.9H471.50V620.3H472.50V619.0H473.50V617.4H474.50V614.6H475.50V611.4H476.50V612.9H477.50V614.1H478.50V616.0H479.50V617.6H480.50V618.1H481.50V619.7H482.50V621.0H483.50V616.5H484.50V612.8H485.50V615.2H486.50V615.2H487.50V616.8H488.50V616.2H489.50V610.1H490.50V608.4H491.50V603.4H492.50V603.0H493.50V605.8H494.50V606.8H495.50V610.7H496.50V617.9H497.50V616.5H498.50V616.3H499.50V616.8H500.50V618.0H501.50V619.8H502.50V620.5H503.50V621.4H504.50V621.2H505.50V620.0H506.50V620.0H507.50V620.3H508.50V619.9H509.50V619.4H510.50V620.8H511.50V620.8H512.50V621.1H513.50V618.6H514.50V617.5H515.50V616.9H516.50V618.2H517.50V619.6H518.50V615.1H519.50V613.0H520.50V612.8H521.50V616.3H522.50V617.4H523.50V619.7H524.50V622.2H525.50V623.0H526.50V622.6H527.50V622.0H528.50V621.4H529.50V624.8H530.50V624.3H531.50V624.0H532.50V621.5H533.50V621.4H534.50V622.2H535.50V622.1H536.50V621.7H537.50V621.5H538.50V622.7H539.50V623.2H540.50V624.2H541.50V622.9H542.50V622.4H543.50V622.5H544.50V622.8H545.50V623.1H546.50V624.5H547.50V625.0H548.50V624.2H549.50V623.0H550.50V623.6H551.50V624.5H552.50V625.4H553.50V626.6H554.50V626.9H555.50V626.6H556.50V626.3H557.50V625.9H558.50V625.8H559.50V625.9H560.50V626.0H561.50V626.8H562.50V626.8H563.50V627.5H564.50V627.1H565.50V627.3H566.50V627.2H567.50V627.5H568.50V627.5H569.50V628.0H570.50V627.8H571.50V627.2H572.50V627.1H573.50V627.4H574.50V627.7H575.50V627.7H576.50V627.0H577.50V626.3H578.50V625.8H579.50V625.5H580.50V624.5H581.50V624.7H582.50V624.5H583.50V625.0H584.50V625.7H585.50V626.0H586.50V626.0H587.50V626.2H588.50V624.8H589.50V624.7H590.50V627.3H591.50V626.8H592.50V625.3H593.50V623.8H594.50V622.3H595.50V622.3H596.50V617.7H597.50V617.0H598.50V615.7H599.50V615.1H600.50V615.5H601.50V616.7H602.50V616.7H603.50V618.2H604.50V618.6H605.50V620.4H606.50V620.0H607.50V620.3H608.50V616.2H609.50V611.2H610.50V608.1H611.50V607.0H612.50V609.8H613.50V616.2H614.50V615.1H615.50V612.0H616.50V610.6H617.50V616.9H618.50V618.1H619.50V620.2H620.50V621.8H621.50V621.1H622.50V622.4H623.50V621.7H624.50V619.6H625.50V619.0H626.50V620.4H627.50V620.9H628.50V622.3H629.50V623.5H630.50V625.0H631.50V625.3H632.50V625.5H633.50V623.7H634.50V620.9H635.50V618.8H636.50V618.8H637.50V617.5H638.50V611.7H639.50V607.7H640.50V601.1H641.50V600.3H642.50V607.5H643.50V612.5H644.50V613.3H645.50V613.2H646.50V614.0H647.50V617.5H648.50V613.8H649.50V615.6H650.50V618.0H651.50V614.0H652.50V611.1H653.50V612.5H654.50V612.8H655.50V612.0H656.50V614.2H657.50V613.7H658.50V615.8H659.50V617.4H660.50V617.9H661.50V617.3H662.50V618.7H663.50V616.6H664.50V612.9H665.50V612.5H666.50V612.6H667.50V614.1H668.50V614.8H669.50V615.1H670.50V615.9H671.50V615.7H672.50V611.9H673.50V612.9H674.50V611.0H675.50V610.4H676.50V607.1H677.50V605.0H678.50V604.9H679.50V607.4H680.50V613.9H681.50V615.4H682.50V610.7H683.50V605.8H684.50V609.5H685.50V614.7H686.50V617.8H687.50V620.9H688.50V621.0H689.50V621.5H690.50V621.3H691.50V621.9H692.50V622.0H693.50V623.4H694.50V624.0H695.50V622.1H696.50V621.7H697.50V622.8H698.50V623.1H699.50V624.8H700.50V626.6H701.50V627.8H702.50V627.6H703.50V627.0H704.50V626.9H705.50V625.1H706.50V623.6H707.50V625.1H708.50V624.5H709.50V622.3H710.50V621.1H711.50V621.2H712.50V622.2H713.50V623.1H714.50V623.9H715.50V624.6H716.50V624.4H717.50V625.6H718.50V625.8H719.50V625.7H720.50V625.4H721.50V624.5H722.50V624.6H723.50V624.2H724.50V622.5H725.50V619.1H726.50V617.9H727.50V617.1H728.50V616.4H729.50V619.1H730.50V620.0H731.50V622.3H732.50V622.9H733.50V622.5H734.50V623.3H735.50V623.7H736.50V623.2H737.50V622.8H738.50V622.7H739.50V622.6H740.50V622.7H741.50V622.7H742.50V623.0H743.50V623.9H744.50V626.0H745.50V623.8H746.50V622.9H747.50V625.6H748.50V625.5H749.50V625.2H750.50V624.7H751.50V625.5H752.50V626.6H753.50V627.2H754.50V627.4H755.50V627.3H756.50V627.4H757.50V628.6H758.50V629.7H759.50V629.2H760.50V628.9H761.50V629.7H762.50V630.1H763.50V630.1H764.50V629.9H765.50V629.0H766.50V628.7H767.50V621.9H768.50V620.7H769.50V619.3H770.50V620.8H771.50V623.1H772.50V623.3H773.50V623.5H774.50V623.6H775.50V625.0H776.50V624.2H777.50V623.0H778.50V623.4H779.50V623.1H780.50V622.4H781.50V622.9H782.50V621.3H783.50V621.4H784.50V622.1H785.50V624.4H786.50V625.8H787.50V626.1H788.50V626.9H789.50V627.4H790.50V628.1H791.50V627.7H792.50V627.5H793.50V627.9H794.50V628.4H795.50V628.4H796.50V628.9H797.50V629.0H798.50V629.2H799.50V629.3H800.50V629.8H801.50V630.0H802.50V630.0H803.50V629.9H804.50V630.2H805.50V630.7H806.50V630.4H807.50V629.9H808.50V630.0H809.50V630.0H810.50V630.1H811.50V629.9H812.50V629.9H813.50V629.5H814.50V629.4H815.50V629.1H816.50V628.7H817.50V628.2H818.50V627.9H819.50V627.9H820.50V628.4H821.50V629.0H822.50V628.8H823.50V628.8H824.50V628.6H825.50V628.9H826.50V629.0H827.50V629.1H828.50V629.4H829.50V629.6H830.50V629.8H831.50V630.1H832.50V630.3H833.50V630.0H834.50V629.8H835.50V629.3H836.50V629.3H837.50V629.1H838.50V629.4H839.50V629.1H840.50V629.1H841.50V629.0H842.50V629.3H843.50V629.2H844.50V629.6H845.50V629.8H846.50V630.1H847.50V630.1H848.50V630.1H849.50V629.7H850.50V629.8H851.50V630.2H852.50V630.0H853.50V630.2H854.50V630.6H855.50V630.6H856.50V630.6H857.50V630.2H858.50V630.1H859.50V630.0H860.50V629.9H861.50V630.0H862.50V630.1H863.50V629.7H864.50V628.9H865.50V628.6H866.50V626.8H867.50V625.9H868.50V626.9H869.50V628.0H870.50V629.1H871.50V629.5H872.50V629.8H873.50V629.9H874.50V630.2H875.50V629.9H876.50V629.9H877.50V629.4H878.50V628.7H879.50V628.6H880.50V628.6H881.50V628.7H882.50V628.5H883.50V628.7H884.50V628.4H885.50V629.0H886.50V629.5H887.50V629.2H888.50V629.6H889.50V629.7H890.50V629.4H891.50V628.9H892.50V629.1H893.50V629.1H894.50V629.2H895.50V629.4H896.50V629.5H897.50V629.6H898.50V629.9H899.50V630.3H900.50V630.4H901.50V630.5H902.50V630.6H903.50V630.7H904.50V630.5H905.50V630.2H906.50V630.0H907.50V630.0H908.50V629.3H909.50V628.6H910.50V627.9H911.50V622.9H912.50V621.6H913.50V621.8H914.50V622.7H915.50V624.1H916.50V626.4H917.50V626.2H918.50V625.5H919.50V625.9H920.50V627.1H921.50V627.6H922.50V626.9H923.50V627.2H924.50V628.0H925.50V628.2H926.50V628.3H927.50V628.3H928.50V628.7H929.50V628.9H930.50V628.8H931.50V628.8H932.50V629.1H933.50V629.4H934.50V629.8H935.50V630.1H936.50V629.7H937.50V629.6H938.50V629.8H939.50V630.0H940.50V630.0H941.50V630.0H942.50V629.8H943.50V630.0H944.50V629.9H945.50V630.0H946.50V630.1H947.50V629.9H948.50V629.4H949.50V629.4H950.50V629.2H951.50V628.8H952.50V628.4H953.50V628.4H954.50V628.3H955.50V629.1H956.50V629.9H957.50V630.2H958.50V630.2H959.50V630.2H960.50V630.4H961.50V630.2H962.50V630.3H963.50V630.7H964.50V630.9H965.50V630.9H966.50V630.8H967.50V630.8H968.50V630.8H969.50V630.8H970.50V630.9H971.50V630.8H972.50V630.9H973.50V630.9H974.50V630.9H975.50V630.9H976.50V630.9H977.50V630.7H978.50V630.8H979.50V630.8H980.50V628.0H981.50V626.2H982.50V624.9H983.50V611.4H984.50V607.9H985.50V609.1H986.50V614.8H987.50V616.2H988.50V617.5H989.50V619.2H990.50V622.0H991.50V623.9H992.50V626.1H993.50V625.7H994.50V625.6H995.50V627.1H996.50V627.8H997.50V627.9H998.50V627.9H999.50V628.2H1000.50V628.5H1001.50V628.5H1002.50V628.9H1003.50V629.1H1004.50V629.3H1005.50V629.7H1006.50V630.0H1007.50V629.5H1008.50V629.4H1009.50V629.6H1010.50V630.1H1011.50V629.9H1012.50V629.6H1013.50V629.6H1014.50V629.8H1015.50V630.0H1016.50V630.1H1017.50V630.4H1018.50V630.5H1019.50V630.3H1020.50V630.2H1021.50V630.6H1022.50V630.4H1023.50V630.3H1024.50V630.2H1025.50V630.2H1026.50V628.8H1027.50V626.9H1028.50V626.2H1029.50V626.6H1030.50V627.2H1031.50V627.0H1032.50V627.0H1033.50V626.6H1034.50V626.6H1035.50V627.1H1036.50V627.4H1037.50V627.2H1038.50V627.7H1039.50V628.2H1040.50V628.2H1041.50V628.3H1042.50V627.9H1043.50V628.3H1044.50V628.5H1045.50V629.3H1046.50V629.4H1047.50V629.0H1048.50V628.6H1049.50V628.9H1050.50V628.9H1051.50V629.5H1052.50V629.5H1053.50V629.7H1054.50V629.7H1055.50V629.5H1056.50V629.2H1057.50V628.7H1058.50V628.1H1059.50V627.4H1060.50V627.4H1061.50V627.3H1062.50V626.9H1063.50V626.7H1064.50V627.0H1065.50V627.1H1066.50V626.7H1067.50V627.3H1068.50V627.2H1069.50V627.4H1070.50V627.8H1071.50V628.2H1072.50V629.0H1073.50V628.9H1074.50V628.9H1075.50V629.0H1076.50V629.2H1077.50V629.5H1078.50V630.0H1079.50V629.1H1080.50V629.0H1081.50V629.2H1082.50V629.6H1083.50V629.7H1084.50V630.0H1085.50V630.0H1086.50V630.1H1087.50V630.1H1088.50V630.3H1089.50V630.2H1090.50V630.0H1091.50V629.8H1092.50V629.7H1093.50V629.7H1094.50V630.1H1095.50V630.0H1096.50V629.8H1097.50V629.7H1098.50V629.7H1099.50V629.5H1100.50V629.5H1101.50V629.5H1102.50V630.0H1103.50V630.5H1104.50V630.2H1105.50V629.8H1106.50V629.8H1107.50V629.5H1108.50V629.6H1109.50V629.7H1110.50V629.9H1111.50V630.2H1112.50V630.3H1113.50V630.0H1114.50V629.8H1115.50V629.8H1116.50V630.1H1117.50V630.2H1118.50V630.4H1119.50V630.6H1120.50V630.4H1121.50V630.3H1122.50V630.0H1123.50V630.4H1124.50V630.7H1125.50V630.8H1126.50V630.4H1127.50V630.0H1128.50V630.2H1129.50V632.3V634.0H1128.50V634.1H1127.50V634.1H1126.50V634.2H1125.50V634.1H1124.50V634.1H1123.50V634.1H1122.50V634.0H1121.50V634.1H1120.50V634.4H1119.50V634.6H1118.50V634.2H1117.50V633.8H1116.50V634.0H1115.50V634.4H1114.50V634.7H1113.50V634.9H1112.50V635.0H1111.50V634.9H1110.50V634.5H1109.50V634.3H1108.50V634.5H1107.50V634.4H1106.50V634.7H1105.50V634.8H1104.50V635.4H1103.50V635.1H1102.50V635.1H1101.50V634.9H1100.50V634.6H1099.50V634.3H1098.50V634.6H1097.50V634.5H1096.50V634.3H1095.50V634.4H1094.50V634.6H1093.50V634.7H1092.50V634.7H1091.50V634.8H1090.50V635.1H1089.50V635.1H1088.50V635.4H1087.50V635.2H1086.50V635.1H1085.50V635.1H1084.50V635.0H1083.50V634.6H1082.50V635.0H1081.50V634.8H1080.50V635.1H1079.50V635.1H1078.50V635.0H1077.50V635.4H1076.50V635.9H1075.50V635.7H1074.50V635.2H1073.50V635.5H1072.50V635.9H1071.50V636.0H1070.50V636.0H1069.50V636.4H1068.50V636.5H1067.50V637.2H1066.50V636.8H1065.50V637.5H1064.50V637.6H1063.50V636.7H1062.50V636.1H1061.50V636.5H1060.50V636.7H1059.50V636.8H1058.50V636.5H1057.50V635.8H1056.50V635.0H1055.50V634.7H1054.50V634.9H1053.50V635.2H1052.50V635.3H1051.50V635.2H1050.50V635.1H1049.50V635.0H1048.50V634.7H1047.50V634.8H1046.50V635.3H1045.50V636.0H1044.50V635.8H1043.50V635.5H1042.50V635.4H1041.50V636.7H1040.50V636.5H1039.50V636.6H1038.50V637.0H1037.50V637.9H1036.50V637.8H1035.50V637.5H1034.50V638.0H1033.50V638.6H1032.50V638.7H1031.50V638.3H1030.50V638.1H1029.50V638.8H1028.50V638.7H1027.50V636.8H1026.50V635.6H1025.50V635.1H1024.50V634.9H1023.50V634.7H1022.50V634.6H1021.50V634.6H1020.50V634.7H1019.50V634.3H1018.50V634.2H1017.50V634.6H1016.50V634.9H1015.50V634.8H1014.50V634.8H1013.50V635.3H1012.50V635.5H1011.50V635.7H1010.50V635.6H1009.50V635.3H1008.50V635.6H1007.50V635.8H1006.50V635.8H1005.50V635.9H1004.50V636.1H1003.50V636.5H1002.50V636.3H1001.50V635.7H1000.50V636.4H999.50V636.9H998.50V637.0H997.50V636.9H996.50V637.8H995.50V638.4H994.50V637.6H993.50V638.2H992.50V639.4H991.50V642.0H990.50V643.4H989.50V644.9H988.50V645.7H987.50V646.8H986.50V651.1H985.50V653.1H984.50V651.0H983.50V640.6H982.50V638.8H981.50V636.0H980.50V633.7H979.50V633.8H978.50V633.7H977.50V633.7H976.50V633.7H975.50V633.9H974.50V634.0H973.50V634.1H972.50V634.0H971.50V633.9H970.50V633.7H969.50V633.7H968.50V633.7H967.50V633.7H966.50V633.8H965.50V633.7H964.50V634.0H963.50V634.3H962.50V634.3H961.50V634.3H960.50V634.6H959.50V634.6H958.50V635.1H957.50V635.6H956.50V635.8H955.50V636.0H954.50V636.2H953.50V635.8H952.50V636.0H951.50V635.9H950.50V635.4H949.50V635.0H948.50V634.9H947.50V634.6H946.50V634.5H945.50V634.8H944.50V634.8H943.50V634.9H942.50V634.6H941.50V635.1H940.50V635.4H939.50V635.1H938.50V635.1H937.50V634.6H936.50V634.6H935.50V634.7H934.50V635.0H933.50V635.3H932.50V635.6H931.50V635.9H930.50V636.0H929.50V636.0H928.50V635.7H927.50V636.3H926.50V637.2H925.50V636.6H924.50V637.2H923.50V637.1H922.50V636.5H921.50V637.1H920.50V637.1H919.50V637.1H918.50V637.6H917.50V638.8H916.50V640.0H915.50V641.4H914.50V642.2H913.50V642.2H912.50V642.0H911.50V638.5H910.50V637.1H909.50V636.0H908.50V635.1H907.50V634.7H906.50V634.2H905.50V634.8H904.50V634.7H903.50V634.5H902.50V634.3H901.50V634.6H900.50V634.6H899.50V634.6H898.50V634.5H897.50V634.4H896.50V634.3H895.50V634.6H894.50V635.0H893.50V635.1H892.50V635.0H891.50V635.4H890.50V636.0H889.50V635.9H888.50V636.0H887.50V636.1H886.50V636.3H885.50V636.7H884.50V636.4H883.50V636.9H882.50V636.8H881.50V636.6H880.50V635.7H879.50V635.6H878.50V635.7H877.50V635.7H876.50V635.7H875.50V636.1H874.50V635.7H873.50V635.4H872.50V635.9H871.50V636.8H870.50V637.1H869.50V638.1H868.50V638.8H867.50V638.4H866.50V637.8H865.50V636.3H864.50V635.3H863.50V634.8H862.50V635.1H861.50V635.2H860.50V635.1H859.50V634.7H858.50V634.6H857.50V634.4H856.50V634.1H855.50V634.2H854.50V634.3H853.50V634.5H852.50V634.9H851.50V635.0H850.50V634.5H849.50V635.0H848.50V635.6H847.50V635.5H846.50V635.0H845.50V635.1H844.50V635.3H843.50V635.4H842.50V635.9H841.50V636.0H840.50V635.7H839.50V635.7H838.50V635.8H837.50V635.7H836.50V635.3H835.50V634.9H834.50V635.4H833.50V635.6H832.50V635.4H831.50V635.2H830.50V635.3H829.50V635.2H828.50V634.8H827.50V635.1H826.50V635.5H825.50V636.1H824.50V636.6H823.50V636.6H822.50V636.4H821.50V636.5H820.50V637.3H819.50V637.4H818.50V636.2H817.50V635.4H816.50V635.1H815.50V635.3H814.50V635.9H813.50V635.4H812.50V635.7H811.50V635.1H810.50V634.7H809.50V634.7H808.50V634.6H807.50V634.9H806.50V634.8H805.50V635.2H804.50V635.2H803.50V635.7H802.50V635.4H801.50V635.5H800.50V636.0H799.50V636.2H798.50V636.3H797.50V636.3H796.50V636.7H795.50V636.9H794.50V636.8H793.50V636.6H792.50V637.3H791.50V637.2H790.50V638.1H789.50V638.1H788.50V639.0H787.50V639.5H786.50V641.5H785.50V646.0H784.50V647.1H783.50V645.7H782.50V643.7H781.50V642.8H780.50V641.2H779.50V640.1H778.50V640.1H777.50V641.4H776.50V642.6H775.50V643.0H774.50V643.0H773.50V642.3H772.50V643.5H771.50V644.0H770.50V643.5H769.50V644.6H768.50V642.8H767.50V634.8H766.50V634.7H765.50V634.2H764.50V634.3H763.50V634.7H762.50V635.0H761.50V635.5H760.50V636.1H759.50V636.0H758.50V635.6H757.50V635.6H756.50V636.2H755.50V636.7H754.50V637.9H753.50V638.9H752.50V638.7H751.50V639.8H750.50V640.1H749.50V642.0H748.50V643.0H747.50V643.0H746.50V642.0H745.50V640.4H744.50V639.2H743.50V639.1H742.50V639.9H741.50V637.8H740.50V638.5H739.50V639.8H738.50V639.4H737.50V639.5H736.50V638.3H735.50V638.0H734.50V638.9H733.50V641.3H732.50V643.0H731.50V645.1H730.50V645.0H729.50V646.1H728.50V645.4H727.50V643.6H726.50V641.7H725.50V641.1H724.50V639.7H723.50V639.8H722.50V639.1H721.50V639.2H720.50V639.9H719.50V639.9H718.50V639.9H717.50V640.1H716.50V639.6H715.50V640.8H714.50V641.5H713.50V641.0H712.50V643.6H711.50V645.2H710.50V644.0H709.50V641.8H708.50V641.4H707.50V640.4H706.50V640.8H705.50V640.6H704.50V639.5H703.50V639.6H702.50V639.4H701.50V639.9H700.50V639.9H699.50V639.6H698.50V639.7H697.50V638.4H696.50V639.0H695.50V641.1H694.50V642.0H693.50V642.4H692.50V643.6H691.50V643.2H690.50V640.9H689.50V644.0H688.50V646.4H687.50V648.8H686.50V648.6H685.50V648.1H684.50V649.8H683.50V650.2H682.50V651.5H681.50V652.8H680.50V658.4H679.50V663.4H678.50V664.3H677.50V660.6H676.50V654.7H675.50V653.7H674.50V653.5H673.50V651.1H672.50V650.6H671.50V649.0H670.50V650.4H669.50V648.6H668.50V655.9H667.50V656.6H666.50V655.1H665.50V652.3H664.50V650.0H663.50V648.9H662.50V649.4H661.50V650.3H660.50V648.8H659.50V647.4H658.50V646.6H657.50V647.1H656.50V648.2H655.50V651.9H654.50V655.3H653.50V653.3H652.50V654.9H651.50V652.8H650.50V646.2H649.50V645.6H648.50V645.5H647.50V645.0H646.50V645.8H645.50V646.8H644.50V647.7H643.50V650.9H642.50V654.7H641.50V657.4H640.50V657.2H639.50V651.8H638.50V648.2H637.50V645.1H636.50V643.0H635.50V641.7H634.50V640.4H633.50V639.7H632.50V640.8H631.50V641.8H630.50V641.4H629.50V640.8H628.50V640.2H627.50V639.6H626.50V642.1H625.50V643.7H624.50V642.7H623.50V641.1H622.50V645.1H621.50V646.4H620.50V649.5H619.50V650.4H618.50V648.6H617.50V648.6H616.50V653.2H615.50V657.5H614.50V659.7H613.50V661.1H612.50V661.1H611.50V662.6H610.50V658.0H609.50V646.1H608.50V645.5H607.50V645.9H606.50V645.3H605.50V646.2H604.50V646.0H603.50V647.1H602.50V648.0H601.50V648.9H600.50V648.5H599.50V648.4H598.50V647.7H597.50V647.0H596.50V645.8H595.50V643.4H594.50V640.7H593.50V638.2H592.50V639.9H591.50V639.6H590.50V638.7H589.50V637.7H588.50V639.1H587.50V640.8H586.50V640.3H585.50V639.4H584.50V639.7H583.50V639.3H582.50V638.9H581.50V639.0H580.50V638.5H579.50V637.6H578.50V637.3H577.50V637.0H576.50V637.0H575.50V636.4H574.50V636.6H573.50V637.0H572.50V637.1H571.50V636.4H570.50V637.6H569.50V638.1H568.50V638.5H567.50V638.4H566.50V638.1H565.50V638.6H564.50V638.8H563.50V638.9H562.50V638.3H561.50V638.6H560.50V638.3H559.50V638.1H558.50V638.3H557.50V638.5H556.50V638.8H555.50V638.6H554.50V637.4H553.50V637.4H552.50V637.9H551.50V638.3H550.50V639.2H549.50V639.5H548.50V640.1H547.50V640.1H546.50V639.4H545.50V639.2H544.50V640.5H543.50V641.2H542.50V641.5H541.50V639.9H540.50V641.1H539.50V640.9H538.50V640.8H537.50V640.4H536.50V640.4H535.50V640.9H534.50V640.3H533.50V640.0H532.50V641.4H531.50V643.5H530.50V643.0H529.50V643.5H528.50V643.6H527.50V642.0H526.50V642.6H525.50V645.1H524.50V647.9H523.50V645.6H522.50V645.6H521.50V645.2H520.50V647.7H519.50V646.9H518.50V647.2H517.50V645.9H516.50V644.4H515.50V645.8H514.50V647.5H513.50V646.4H512.50V646.1H511.50V647.2H510.50V646.7H509.50V645.4H508.50V646.2H507.50V644.1H506.50V645.4H505.50V642.7H504.50V643.1H503.50V644.4H502.50V645.8H501.50V647.1H500.50V647.7H499.50V648.6H498.50V652.6H497.50V660.2H496.50V663.4H495.50V661.3H494.50V651.7H493.50V651.8H492.50V655.8H491.50V656.4H490.50V654.4H489.50V647.6H488.50V651.9H487.50V653.7H486.50V653.5H485.50V651.9H484.50V651.4H483.50V646.7H482.50V646.7H481.50V647.8H480.50V649.2H479.50V649.4H478.50V652.2H477.50V655.9H476.50V659.7H475.50V658.3H474.50V655.3H473.50V652.4H472.50V647.5H471.50V652.3H470.50V652.9H469.50V658.3H468.50V659.0H467.50V655.2H466.50V654.1H465.50V654.9H464.50V657.9H463.50V654.5H462.50V649.0H461.50V645.5H460.50V646.8H459.50V646.0H458.50V646.7H457.50V649.3H456.50V648.8H455.50V647.5H454.50V649.4H453.50V649.1H452.50V648.1H451.50V649.1H450.50V649.1H449.50V648.1H448.50V650.0H447.50V651.3H446.50V651.7H445.50V654.2H444.50V656.4H443.50V656.6H442.50V656.5H441.50V649.1H440.50V647.2H439.50V649.5H438.50V650.1H437.50V648.7H436.50V644.1H435.50V643.1H434.50V642.8H433.50V642.2H432.50V641.6H431.50V641.2H430.50V641.7H429.50V642.0H428.50V642.0H427.50V643.0H426.50V641.6H425.50V642.2H424.50V644.3H423.50V647.4H422.50V653.8H421.50V657.8H420.50V654.0H419.50V649.7H418.50V654.0H417.50V657.6H416.50V655.1H415.50V654.6H414.50V649.9H413.50V646.8H412.50V644.3H411.50V644.5H410.50V641.1H409.50V639.6H408.50V639.7H407.50V638.9H406.50V638.5H405.50V638.0H404.50V637.9H403.50V637.4H402.50V638.0H401.50V638.8H400.50V639.2H399.50V638.5H398.50V637.8H397.50V638.2H396.50V638.2H395.50V640.1H394.50V641.1H393.50V643.2H392.50V643.6H391.50V644.5H390.50V644.7H389.50V646.2H388.50V644.0H387.50V644.1H386.50V645.3H385.50V646.4H384.50V647.8H383.50V648.5H382.50V649.6H381.50V648.4H380.50V646.5H379.50V644.8H378.50V643.3H377.50V643.8H376.50V646.2H375.50V649.2H374.50V652.1H373.50V654.9H372.50V651.5H371.50V649.5H370.50V648.8H369.50V647.5H368.50V650.4H367.50V662.2H366.50V662.9H365.50V664.6H364.50V667.1H363.50V664.9H362.50V663.7H361.50V657.2H360.50V649.1H359.50V648.4H358.50V648.8H357.50V651.3H356.50V652.3H355.50V648.5H354.50V646.0H353.50V644.8H352.50V644.7H351.50V643.5H350.50V641.7H349.50V642.3H348.50V644.6H347.50V644.9H346.50V644.2H345.50V642.8H344.50V645.0H343.50V645.8H342.50V648.7H341.50V650.9H340.50V654.6H339.50V655.8H338.50V654.9H337.50V652.9H336.50V651.7H335.50V652.8H334.50V652.3H333.50V649.1H332.50V647.9H331.50V648.0H330.50V645.8H329.50V644.1H328.50V643.2H327.50V645.3H326.50V647.3H325.50V649.5H324.50V653.8H323.50V655.4H322.50V656.1H321.50V653.7H320.50V656.0H319.50V656.3H318.50V655.9H317.50V652.6H316.50V649.7H315.50V647.7H314.50V648.1H313.50V648.8H312.50V653.2H311.50V650.6H310.50V649.5H309.50V650.1H308.50V651.4H307.50V655.1H306.50V657.5H305.50V658.9H304.50V657.6H303.50V660.2H302.50V661.0H301.50V664.0H300.50V667.8H299.50V669.8H298.50V668.1H297.50V683.3H296.50V684.8H295.50V681.2H294.50V656.9H293.50V657.4H292.50V659.0H291.50V662.6H290.50V665.6H289.50V668.5H288.50V665.5H287.50V661.3H286.50V660.5H285.50V663.5H284.50V661.8H283.50V664.4H282.50V664.5H281.50V663.5H280.50V660.4H279.50V657.6H278.50V653.3H277.50V652.8H276.50V653.2H275.50V655.4H274.50V651.2H273.50V652.8H272.50V651.6H271.50V658.7H270.50V660.0H269.50V656.2H268.50V645.7H267.50V645.4H266.50V646.0H265.50V645.5H264.50V644.6H263.50V645.2H262.50V644.6H261.50V647.1H260.50V647.3H259.50V647.2H258.50V650.3H257.50V651.4H256.50V650.9H255.50V649.2H254.50V647.0H253.50V644.0H252.50V643.1H251.50V643.3H250.50V642.7H249.50V642.1H248.50V642.2H247.50V641.8H246.50V639.6H245.50V638.9H244.50V640.2H243.50V641.3H242.50V642.2H241.50V642.1H240.50V641.8H239.50V643.1H238.50V644.6H237.50V644.3H236.50V643.3H235.50V642.2H234.50V642.6H233.50V639.5H232.50V640.6H231.50V642.2H230.50V642.8H229.50V642.5H228.50V642.2H227.50V643.2H226.50V643.4H225.50V644.0H224.50V644.4H223.50V642.7H222.50V641.8H221.50V642.9H220.50V643.7H219.50V644.2H218.50V645.1H217.50V645.9H216.50V645.7H215.50V646.4H214.50V646.3H213.50V646.4H212.50V647.2H211.50V647.6H210.50V648.1H209.50V649.3H208.50V656.6H207.50V664.7H206.50V662.1H205.50V662.6H204.50V657.9H203.50V651.6H202.50V652.0H201.50V652.3H200.50V654.3H199.50V656.3H198.50V653.1H197.50V654.9H196.50V659.5H195.50V665.4H194.50V659.6H193.50V645.5H192.50V646.0H191.50V646.6H190.50V647.4H189.50V649.8H188.50V650.6H187.50V647.6H186.50V647.7H185.50V649.4H184.50V651.0H183.50V650.7H182.50V648.8H181.50V649.3H180.50V648.5H179.50V649.9H178.50V651.6H177.50V648.0H176.50V646.4H175.50V645.3H174.50V643.7H173.50V644.4H172.50V645.4H171.50V646.2H170.50V646.8H169.50V647.0H168.50V646.2H167.50V645.5H166.50V643.9H165.50V642.2H164.50V641.2H163.50V640.7H162.50V640.1H161.50V639.7H160.50V639.7H159.50V639.9H158.50V640.9H157.50V641.1H156.50V641.4H155.50V641.6H154.50V641.2H153.50V642.5H152.50V642.6H151.50V641.8H150.50V642.2H149.50V642.6H148.50V643.6H147.50V642.7H146.50V642.0H145.50V643.8H144.50V646.9H143.50V644.2H142.50V643.5H141.50V643.2H140.50V643.9H139.50V642.4H138.50V643.4H137.50V643.0H136.50V644.2H135.50V643.6H134.50V644.2H133.50V646.1H132.50V649.2H131.50V653.0H130.50V653.9H129.50V653.1H128.50V650.0H127.50V650.1H126.50V650.0H125.50V649.4H124.50V648.1H123.50V646.2H122.50V646.1H121.50V644.4H120.50V644.3H119.50V642.6H118.50V642.2H117.50V641.4H116.50V640.1H115.50V640.1H114.50V640.9H113.50V641.2H112.50V641.6H111.50V641.3H110.50V640.1H109.50V639.4H108.50V640.8H107.50V643.5H106.50V642.3H105.50V640.0H104.50V640.6H103.50V640.5H102.50V641.8H101.50V641.8H100.50V642.8H99.50V642.0H98.50V641.4H97.50V640.7H96.50V640.0H95.50V639.3H94.50V638.4H93.50V638.7H92.50V638.9H91.50V639.4H90.50V638.9H89.50V638.6H88.50V637.7H87.50V636.6H86.50V636.0H85.50V635.2H84.50V634.7H83.50V634.2H82.50V633.9H81.50V633.9H80.50V634.1H79.50V634.3H78.50V634.3H77.50V634.4H76.50V634.4H75.50V634.4H74.50V634.3H73.50V634.2H72.50V634.2H71.50V634.3H70.50V634.3H69.50Z" fill="#1771c2" stroke="#1771c2" stroke-width="0.4" stroke-linejoin="miter"/>
<rect x="1040.4" y="497" width="87" height="65.6" fill="#ffffff" stroke="#dcdcdc" stroke-width="1.3"/>
<rect x="69.6" y="497.4" width="1059.4" height="269.8" fill="none" stroke="#a9a9a9" stroke-width="1.35"/>
<line x1="228.0" y1="497.4" x2="228.0" y2="507.9" stroke="#a9a9a9" stroke-width="1.35"/>
<line x1="228.0" y1="767.2" x2="228.0" y2="756.7" stroke="#a9a9a9" stroke-width="1.35"/>
<line x1="625.6" y1="497.4" x2="625.6" y2="507.9" stroke="#a9a9a9" stroke-width="1.35"/>
<line x1="625.6" y1="767.2" x2="625.6" y2="756.7" stroke="#a9a9a9" stroke-width="1.35"/>
<line x1="1023.2" y1="497.4" x2="1023.2" y2="507.9" stroke="#a9a9a9" stroke-width="1.35"/>
<line x1="1023.2" y1="767.2" x2="1023.2" y2="756.7" stroke="#a9a9a9" stroke-width="1.35"/>
<text transform="translate(1095.4 552.4) scale(0.78 1)" x="0" y="0" text-anchor="middle" font-size="48.2" font-weight="bold" fill="#000">B</text>
<text x="58.5" y="512.5" text-anchor="end" font-size="38.1" >5</text>
<text x="58.5" y="646.7" text-anchor="end" font-size="38.1" >0</text>
<text x="58.5" y="782.6" text-anchor="end" font-size="38.1" >-5</text>
<text x="70.6" y="485.6" font-size="38.1"><tspan font-size="42" dy="2.4">×</tspan><tspan dy="-2.4">10</tspan><tspan dy="-15.6" font-size="26">4</tspan></text>
<text x="228.4" y="815.9" text-anchor="middle" font-size="38.1" >Oct 12, 23:30</text>
<text x="626.0" y="815.9" text-anchor="middle" font-size="38.1" >Oct 13, 00:00</text>
<text x="1023.6" y="815.9" text-anchor="middle" font-size="38.1" >Oct 13, 00:30</text>
<text x="1096.2" y="860.9" text-anchor="end" font-size="38.1" >2025</text>
</g>
</svg>
</body></html>
